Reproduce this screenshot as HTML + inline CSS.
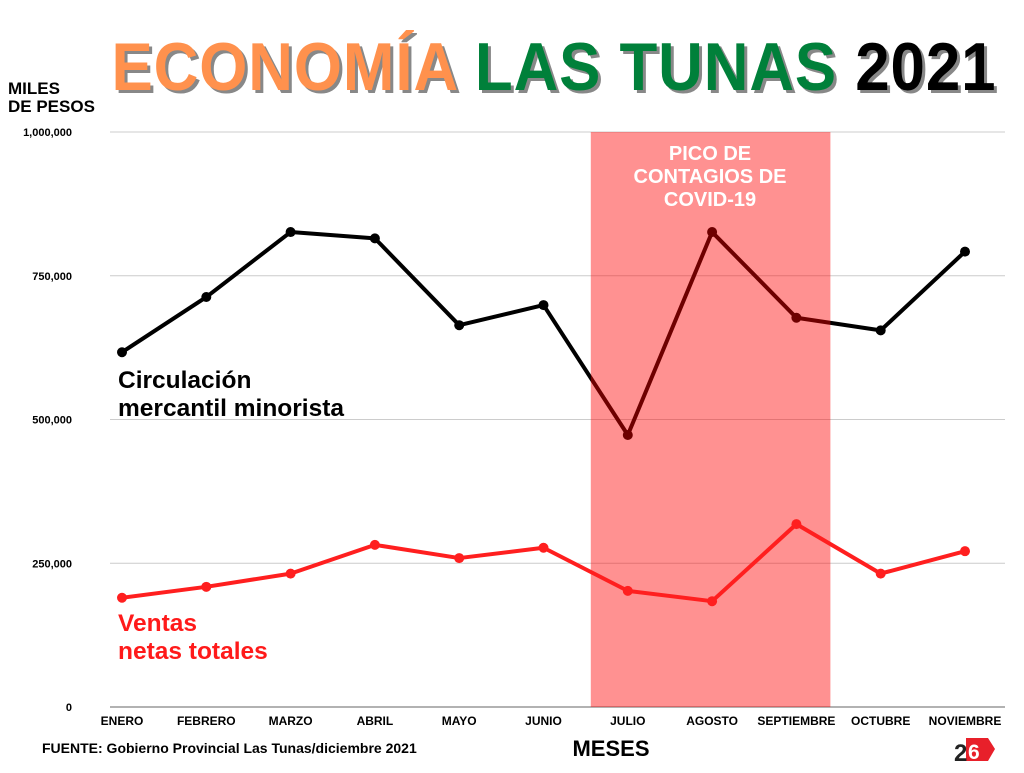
<!DOCTYPE html>
<html><head><meta charset="utf-8"><style>
body{margin:0;width:1024px;height:768px;background:#fff;overflow:hidden;font-family:"Liberation Sans",sans-serif}
svg text{font-family:"Liberation Sans",sans-serif;font-weight:bold}
</style></head><body>
<svg id="c" width="1024" height="768">
<g>
<text x="557" y="93" text-anchor="middle" font-size="68" transform="translate(557,0) scale(0.91,1) translate(-557,0)" style="letter-spacing:1px" fill="#888">ECONOMÍA LAS TUNAS 2021</text>
<text x="554" y="90" text-anchor="middle" font-size="68" transform="translate(554,0) scale(0.91,1) translate(-554,0)" style="letter-spacing:1px"><tspan fill="#ff914d">ECONOMÍA </tspan><tspan fill="#00803a">LAS TUNAS </tspan><tspan fill="#000">2021</tspan></text>
</g>
<text x="8" y="94" font-size="17">MILES</text>
<text x="8" y="112" font-size="17">DE PESOS</text>
<g id="grid"></g>
<g id="lines"></g>
<rect id="band" fill="rgba(255,0,0,0.43)"/>
<text x="710" y="160" text-anchor="middle" font-size="20" fill="#fff"><tspan x="710">PICO DE</tspan><tspan x="710" dy="23">CONTAGIOS DE</tspan><tspan x="710" dy="23">COVID-19</tspan></text>
<g id="redline"></g>
<text x="118" y="388" font-size="24.5" fill="#000"><tspan x="118">Circulación</tspan><tspan x="118" dy="28">mercantil minorista</tspan></text>
<text x="118" y="631" font-size="24.5" fill="#ff1a1a"><tspan x="118">Ventas</tspan><tspan x="118" dy="28">netas totales</tspan></text>
<text x="42" y="753" font-size="14">FUENTE: Gobierno Provincial Las Tunas/diciembre 2021</text>
<text x="611" y="756" text-anchor="middle" font-size="22">MESES</text>
<g>
<polygon points="966,738 988,738 995,749 988,761 966,761" fill="#e8202a"/>
<text x="954" y="761" font-size="24" fill="#222">2</text>
<text x="968" y="759" font-size="21" fill="#fff">6</text>
</g>
</svg>
<script>
const months=["ENERO","FEBRERO","MARZO","ABRIL","MAYO","JUNIO","JULIO","AGOSTO","SEPTIEMBRE","OCTUBRE","NOVIEMBRE"];
const circulacion=[617000,713000,826000,815000,664000,699000,473000,826000,677000,655000,792000];
const ventas=[190000,209000,232000,282000,259000,277000,202000,184000,318000,232000,271000];
const yTicks=[0,250000,500000,750000,1000000];
const yTickLabels=["0","250,000","500,000","750,000","1,000,000"];
const bandStart=6, bandEnd=8;
const NS="http://www.w3.org/2000/svg";
const x=i=>122+i*84.3;
const y=v=>707-v/1000000*575;
function mk(t,a,p){const e=document.createElementNS(NS,t);for(const k in a)e.setAttribute(k,a[k]);p.appendChild(e);return e;}
const grid=document.getElementById('grid');
yTicks.forEach((t,i)=>{
 const l=mk('line',{x1:110,x2:1005,y1:y(t),y2:y(t),stroke:i==0?'#999':'#ccc','stroke-width':i==0?1.5:1},grid);
 
 
 const tx=mk('text',{x:72,y:y(t)+4,'text-anchor':'end','font-size':11},grid);tx.textContent=yTickLabels[i];
 
 
});
months.forEach((m,i)=>{
 const tx=mk('text',{x:x(i),y:725,'text-anchor':'middle','font-size':12},grid);tx.textContent=m;
 
 
});
const band=document.getElementById('band');
band.setAttribute('x',x(bandStart)-37);band.setAttribute('width',x(bandEnd)-x(bandStart)+71);
band.setAttribute('y',y(1000000));band.setAttribute('height',y(0)-y(1000000));
function series(vals,col,g,name){
 const p=mk('polyline',{points:vals.map((v,i)=>x(i)+','+y(v)).join(' '),fill:'none',stroke:col,'stroke-width':4,'stroke-linejoin':'round'},g);
 
 
 vals.forEach((v,i)=>{const c=mk('circle',{cx:x(i),cy:y(v),r:5,fill:col},g);
 
 });
}
series(circulacion,'#000',document.getElementById('lines'),'circulacion');
series(ventas,'#ff1f1f',document.getElementById('redline'),'ventas');
</script>
</body></html>
